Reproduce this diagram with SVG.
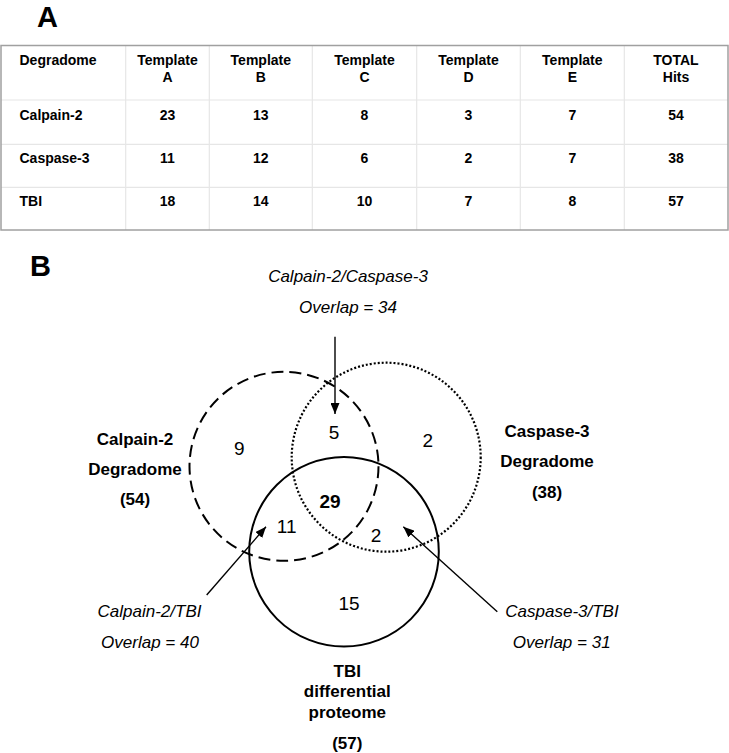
<svg xmlns="http://www.w3.org/2000/svg" width="729" height="753" viewBox="0 0 729 753">
<style>
text{font-family:"Liberation Sans",Arial,sans-serif;fill:#000}
.panel{font-size:29px;font-weight:bold}
.th{font-size:14px;font-weight:bold;text-anchor:middle}
.tl{font-size:14px;font-weight:bold}
.lbl{font-size:17px;font-weight:bold;text-anchor:middle}
.it{font-size:17px;font-style:italic;text-anchor:middle}
.num{font-size:19px;text-anchor:middle}
.grid{stroke:#e6e6e6;stroke-width:1.2}
.conn{stroke:#000;stroke-width:1.4;fill:none}
</style>
<defs>
<marker id="ah" markerUnits="userSpaceOnUse" markerWidth="11" markerHeight="9" refX="11" refY="4.5" orient="auto">
<path d="M0,0 L11,4.5 L0,9 z" fill="#000"/>
</marker>
</defs>
<rect width="729" height="753" fill="#fff"/>
<text class="panel" x="37" y="27">A</text>
<text class="panel" x="30" y="276">B</text>
<g id="table">
<g class="grid">
<line x1="125.7" y1="45" x2="125.7" y2="230"/>
<line x1="209.3" y1="45" x2="209.3" y2="230"/>
<line x1="312.3" y1="45" x2="312.3" y2="230"/>
<line x1="416.7" y1="45" x2="416.7" y2="230"/>
<line x1="520.3" y1="45" x2="520.3" y2="230"/>
<line x1="624.3" y1="45" x2="624.3" y2="230"/>
<line x1="1" y1="100" x2="728" y2="100"/>
<line x1="1" y1="144.3" x2="728" y2="144.3"/>
<line x1="1" y1="187.3" x2="728" y2="187.3"/>
</g>
<rect x="1" y="45.5" width="727" height="184.5" fill="none" stroke="#a0a0a0" stroke-width="1.5"/>
<text class="tl" x="19.5" y="65">Degradome</text>
<text class="th" x="167.5" y="65">Template<tspan x="167.5" y="82">A</tspan></text>
<text class="th" x="260.8" y="65">Template<tspan x="260.8" y="82">B</tspan></text>
<text class="th" x="364.5" y="65">Template<tspan x="364.5" y="82">C</tspan></text>
<text class="th" x="468.5" y="65">Template<tspan x="468.5" y="82">D</tspan></text>
<text class="th" x="572.3" y="65">Template<tspan x="572.3" y="82">E</tspan></text>
<text class="th" x="676" y="65">TOTAL<tspan x="676" y="82">Hits</tspan></text>
<text class="tl" x="19.5" y="120">Calpain-2</text>
<text class="th" x="167.5" y="120">23</text>
<text class="th" x="260.8" y="120">13</text>
<text class="th" x="364.5" y="120">8</text>
<text class="th" x="468.5" y="120">3</text>
<text class="th" x="572.3" y="120">7</text>
<text class="th" x="676" y="120">54</text>
<text class="tl" x="19.5" y="163.3">Caspase-3</text>
<text class="th" x="167.5" y="163.3">11</text>
<text class="th" x="260.8" y="163.3">12</text>
<text class="th" x="364.5" y="163.3">6</text>
<text class="th" x="468.5" y="163.3">2</text>
<text class="th" x="572.3" y="163.3">7</text>
<text class="th" x="676" y="163.3">38</text>
<text class="tl" x="19.5" y="206">TBI</text>
<text class="th" x="167.5" y="206">18</text>
<text class="th" x="260.8" y="206">14</text>
<text class="th" x="364.5" y="206">10</text>
<text class="th" x="468.5" y="206">7</text>
<text class="th" x="572.3" y="206">8</text>
<text class="th" x="676" y="206">57</text>
</g>
<g id="calpain2">
<circle cx="284" cy="466.3" r="94.5" fill="none" stroke="#000" stroke-width="2" stroke-dasharray="12 6"/>
<text class="lbl" x="135" y="445">Calpain-2</text>
<text class="lbl" x="135" y="475">Degradome</text>
<text class="lbl" x="135" y="505">(54)</text>
</g>
<g id="caspase3">
<circle cx="386.2" cy="457.2" r="94.5" fill="none" stroke="#000" stroke-width="2.2" stroke-dasharray="2 2"/>
<text class="lbl" x="547" y="437">Caspase-3</text>
<text class="lbl" x="547" y="467">Degradome</text>
<text class="lbl" x="547" y="498">(38)</text>
</g>
<g id="tbi">
<circle cx="344" cy="551.8" r="94.8" fill="none" stroke="#000" stroke-width="2"/>
<text class="lbl" x="347.3" y="676.7">TBI</text>
<text class="lbl" x="347.3" y="697.3">differential</text>
<text class="lbl" x="347.3" y="718.3">proteome</text>
<text class="lbl" x="347.3" y="749">(57)</text>
</g>
<g id="regions">
<text class="num" x="239.3" y="455">9</text>
<text class="num" x="334" y="439">5</text>
<text class="num" x="427.7" y="446.7">2</text>
<text class="num" x="330" y="508" font-weight="bold">29</text>
<text class="num" x="286.7" y="533.3">11</text>
<text class="num" x="376" y="541.7">2</text>
<text class="num" x="349" y="610">15</text>
</g>
<g id="overlap-labels">
<text class="it" x="348" y="281.7">Calpain-2/Caspase-3</text>
<text class="it" x="348" y="312.7">Overlap = 34</text>
<text class="it" x="149.5" y="616.7">Calpain-2/TBI</text>
<text class="it" x="150" y="647.7">Overlap = 40</text>
<text class="it" x="562" y="616.7">Caspase-3/TBI</text>
<text class="it" x="561.7" y="647.7">Overlap = 31</text>
</g>
<g id="connectors">
<line class="conn" x1="335" y1="336.7" x2="335" y2="414" marker-end="url(#ah)"/>
<line class="conn" x1="206.7" y1="595" x2="266" y2="526.7" marker-end="url(#ah)"/>
<line class="conn" x1="497.3" y1="611.7" x2="403.3" y2="526.7" marker-end="url(#ah)"/>
</g>
</svg>
